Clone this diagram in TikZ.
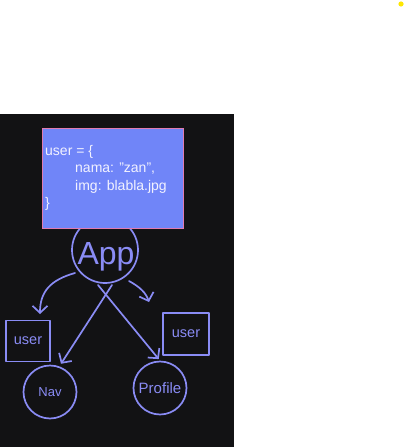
\documentclass[tikz,border=0pt]{standalone}
\usepackage{fontspec}
\setmainfont{Liberation Sans}
\usetikzlibrary{arrows.meta}
\definecolor{bgdark}{HTML}{121214}
\definecolor{boxfill}{HTML}{7085F8}
\definecolor{boxedge}{HTML}{E07BB0}
\definecolor{ink}{HTML}{8A8CF5}
\definecolor{chalk}{HTML}{F2F2FF}
\tikzset{
  inkline/.style={draw=ink, line width=1.7pt, line cap=round, line join=round},
  inkarrow/.style={inkline, -{Straight Barb[length=7pt,width=15pt,line width=1.7pt]}},
  circnode/.style={inkline, circle, inner sep=0pt, text=ink},
  sqnode/.style={inkline, rectangle, inner sep=0pt, text=ink, font=\fontsize{14.5}{16}\selectfont},
  codetext/.style={anchor=base west, text=chalk, font=\fontsize{14}{16}\selectfont, inner sep=0pt},
}
\begin{document}
\begin{tikzpicture}[x=1pt,y=-1pt]
\useasboundingbox (0,0) rectangle (418,447);
\fill[white] (0,0) rectangle (418,447);
\fill[bgdark] (0,114) rectangle (234,447);
\fill[yellow!90!orange] (401,4) circle (2.6);
% App
\node[circnode, minimum size=66pt] (app) at (105,250) {};
% code box
\node[draw=boxedge, fill=boxfill, line width=0.9pt, minimum width=141pt, minimum height=100pt, inner sep=0pt, anchor=north west] (code) at (42,128) {};
\node[codetext] (l1) at (45,155) {user = \{};
\node[codetext] (l2) at (75,172) {nama: "zan",};
\node[codetext] (l3) at (75,190) {img: blabla.jpg};
\node[codetext] (l4) at (45,207) {\}};
\node[text=ink, font=\fontsize{32}{34}\selectfont, inner sep=0pt] (apptext) at (106,257) {App};
% children
\node[circnode, minimum size=53pt, font=\fontsize{13}{15}\selectfont] (nav) at (50,392) {Nav};
\node[circnode, minimum size=53pt, font=\fontsize{15}{17}\selectfont] (profile) at (160,388) {Profile};
\node[sqnode, minimum width=44pt, minimum height=41pt] (userl) at (28,341) {user};
\node[sqnode, minimum width=46pt, minimum height=42pt] (userr) at (186,334) {user};
% connectors
\coordinate (s1) at (112,285);
\coordinate (s2) at (98,285);
\draw[inkarrow, shorten >=3pt] (s1) -- (nav.70);
\draw[inkarrow, shorten >=2pt] (s2) -- (profile.north);
\coordinate (c1) at (75,273);
\coordinate (c2) at (129,281);
\draw[inkarrow] (c1) .. controls (50,280) and (40,292) .. (40,314);
\draw[inkarrow] (c2) .. controls (140,287) and (146,293) .. (149,302);
\end{tikzpicture}
\end{document}
